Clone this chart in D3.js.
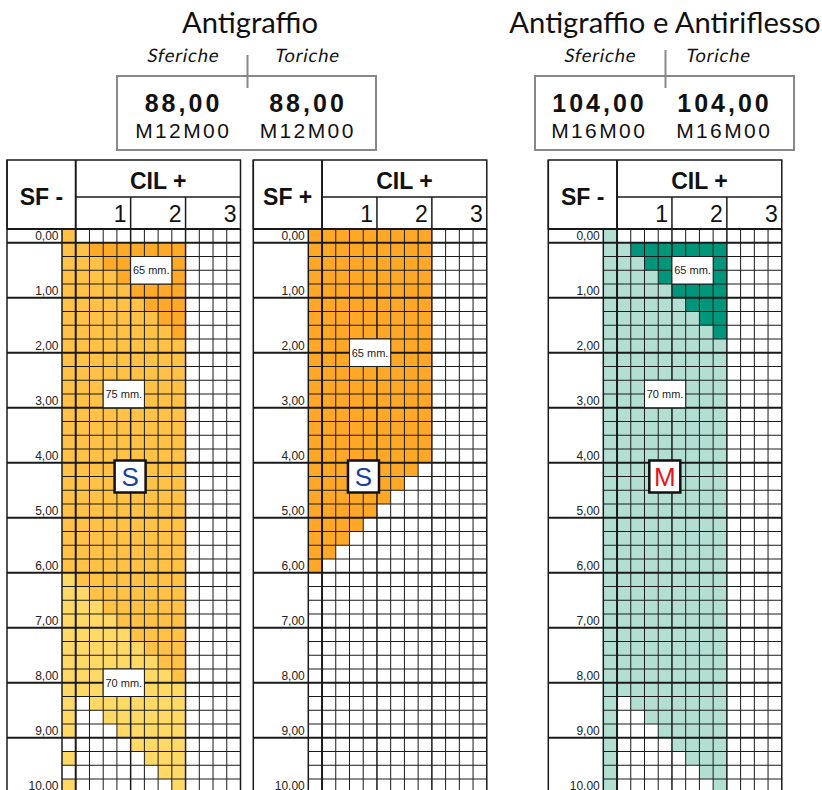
<!DOCTYPE html>
<html>
<head>
<meta charset="utf-8">
<script src="https://cdn.jsdelivr.net/npm/d3@7"></script>
<style>
	body { margin: 0; background: #fff; }
	svg { display: block; }
</style>
</head>
<body>
<div id="chart"></div>
<script>
// grid categories: cylinder (columns) and sphere (rows), in diopters
var cylSteps = [0, 0.25, 0.5, 0.75, 1, 1.25, 1.5, 1.75, 2, 2.25, 2.5, 2.75, 3];
var sphSteps = [0, 0.25, 0.5, 0.75, 1, 1.25, 1.5, 1.75, 2, 2.25, 2.5, 2.75, 3,
	3.25, 3.5, 3.75, 4, 4.25, 4.5, 4.75, 5, 5.25, 5.5, 5.75, 6, 6.25, 6.5, 6.75,
	7, 7.25, 7.5, 7.75, 8, 8.25, 8.5, 8.75, 9, 9.25, 9.5, 9.75, 10];
var sphLabels = ["0,00", "1,00", "2,00", "3,00", "4,00", "5,00", "6,00", "7,00", "8,00", "9,00", "10,00"];
var cilLabels = ["1", "2", "3"];

// cell codes read row by row (one char per cylinder column, "." = not available)
// L = 75 mm, D = 65 mm, P = 70 mm (antigraffio sferiche)
var antigraffioSfMeno = [
	"L............", "LLDDDDDDD....", "LLLDDDDDD....", "LLLLDDDDD....", "LLLLLDDDD....",
	"LLLLLLDDD....", "LLLLLLLDD....", "LLLLLLLLD....", "LLLLLLLLL....", "LLLLLLLLL....",
	"LLLLLLLLL....", "LLLLLLLLL....", "LLLLLLLLL....", "LLLLLLLLL....", "LLLLLLLLL....",
	"LLLLLLLLL....", "LLLLLLLLL....", "LLLLLLLLL....", "LLLLLLLLL....", "LLLLLLLLL....",
	"LLLLLLLLL....", "LLLLLLLLL....", "LLLLLLLLL....", "LLLLLLLLL....", "LLLLLLLLL....",
	"PLLLLLLLL....", "PPLLLLLLL....", "PPPLLLLLL....", "PPPPLLLLL....", "PPPPPLLLL....",
	"PPPPPPLLL....", "PPPPPPPLL....", "PPPPPPPPL....", "PPPPPPPPP....", "P.PPPPPPP....",
	"P..PPPPPP....", "P...PPPPP....", ".....PPPP....", "P.....PPP....", ".......PP....",
	"P.......P...."
];
// O = 65 mm (antigraffio, SF +)
var antigraffioSfPiu = [
	"OOOOOOOOO....", "OOOOOOOOO....", "OOOOOOOOO....", "OOOOOOOOO....", "OOOOOOOOO....",
	"OOOOOOOOO....", "OOOOOOOOO....", "OOOOOOOOO....", "OOOOOOOOO....", "OOOOOOOOO....",
	"OOOOOOOOO....", "OOOOOOOOO....", "OOOOOOOOO....", "OOOOOOOOO....", "OOOOOOOOO....",
	"OOOOOOOOO....", "OOOOOOOOO....", "OOOOOOOO.....", "OOOOOOO......", "OOOOOO.......",
	"OOOOO........", "OOOO.........", "OOO..........", "OO...........", "O............",
	".............", ".............", ".............", ".............", ".............",
	".............", ".............", ".............", ".............", ".............",
	".............", ".............", ".............", ".............", ".............",
	"............."
];
// T = 70 mm, G = 65 mm (antigraffio e antiriflesso, SF -)
var antiriflessoSfMeno = [
	"T............", "TTGGGGGGG....", "TTTGGGGGG....", "TTTTGGGGG....", "TTTTTGGGG....",
	"TTTTTTGGG....", "TTTTTTTGG....", "TTTTTTTTG....", "TTTTTTTTT....", "TTTTTTTTT....",
	"TTTTTTTTT....", "TTTTTTTTT....", "TTTTTTTTT....", "TTTTTTTTT....", "TTTTTTTTT....",
	"TTTTTTTTT....", "TTTTTTTTT....", "TTTTTTTTT....", "TTTTTTTTT....", "TTTTTTTTT....",
	"TTTTTTTTT....", "TTTTTTTTT....", "TTTTTTTTT....", "TTTTTTTTT....", "TTTTTTTTT....",
	"TTTTTTTTT....", "TTTTTTTTT....", "TTTTTTTTT....", "TTTTTTTTT....", "TTTTTTTTT....",
	"TTTTTTTTT....", "TTTTTTTTT....", "TTTTTTTTT....", "TTTTTTTTT....", "T.TTTTTTT....",
	"T..TTTTTT....", "T...TTTTT....", "T....TTTT....", "T.....TTT....", "T......TT....",
	"T.......T...."
];

// diameter notes: text, first/last cylinder, first/last sphere
var notesSfMeno = [
	{ text: "65 mm.", c0: 1.25, c1: 1.75, s0: 0.5, s1: 0.75 },
	{ text: "75 mm.", c0: 0.75, c1: 1.25, s0: 2.75, s1: 3 },
	{ text: "70 mm.", c0: 0.75, c1: 1.25, s0: 8, s1: 8.25 }
];
var notesSfPiu = [
	{ text: "65 mm.", c0: 0.75, c1: 1.25, s0: 2, s1: 2.25 }
];
var notesRiflesso = [
	{ text: "65 mm.", c0: 1.25, c1: 1.75, s0: 0.5, s1: 0.75 },
	{ text: "70 mm.", c0: 0.75, c1: 1.25, s0: 2.75, s1: 3 }
];

// header prices and codes
var groupTitles = ["Antigraffio", "Antigraffio e Antiriflesso"];
var sfericheValues = ["88,00", "104,00"];
var toricheValues = ["88,00", "104,00"];
var sfericheCodes = ["M12M00", "M16M00"];
var toricheCodes = ["M12M00", "M16M00"];

var fillColors = {
	L: "#FFC247", D: "#FFA928", P: "#FFD966",
	O: "#FFA726", T: "#B3DFD3", G: "#00967C"
};

var svgWidth = 822;
var svgHeight = 790;

var svg = d3.select("#chart")
	.append("svg")
	.attr("width", svgWidth)
	.attr("height", svgHeight);

var sans = "'Liberation Sans', Arial, sans-serif";
var futura = "Lato, 'Open Sans', sans-serif";

// ---- top header blocks ----
var groups = [
	{ cx: 246.5, titleX: 250, sepTop: 55, leftX: 182, rightX: 306, valueX: [182, 306.5] },
	{ cx: 664.5, titleX: 665, sepTop: 50, leftX: 599, rightX: 717, valueX: [598, 723] }
];

groups.forEach(function(g, i) {
	var head = svg.append("g");

	head.append("text")
		.attr("x", g.titleX)
		.attr("y", 33)
		.attr("text-anchor", "middle")
		.attr("font-family", futura)
		.attr("font-size", 29.2)
		.attr("fill", "#111")
		.text(groupTitles[i]);

	// oblique subtitles (slanted roman, like the original)
	[[g.leftX, "Sferiche"], [g.rightX, "Toriche"]].forEach(function(s) {
		head.append("text")
			.attr("transform", `translate(${s[0] + 0.4}, 61.5) skewX(-11)`)
			.attr("text-anchor", "middle")
			.attr("font-family", futura)
			.attr("font-size", 18.5)
			.attr("letter-spacing", 0.8)
			.attr("fill", "#111")
			.text(s[1]);
	});

	head.append("rect")
		.attr("x", g.cx - 129.5)
		.attr("y", 76)
		.attr("width", 259)
		.attr("height", 74)
		.attr("fill", "none")
		.attr("stroke", "#888")
		.attr("stroke-width", 2);

	head.append("line")
		.attr("x1", g.cx + 1).attr("x2", g.cx + 1)
		.attr("y1", g.sepTop).attr("y2", 88)
		.attr("stroke", "#888")
		.attr("stroke-width", 2);

	[[g.valueX[0], sfericheValues[i], sfericheCodes[i]], [g.valueX[1], toricheValues[i], toricheCodes[i]]].forEach(function(v) {
		head.append("text")
			.attr("x", v[0] + 1.5)
			.attr("y", 111.5)
			.attr("text-anchor", "middle")
			.attr("font-family", sans)
			.attr("font-weight", "bold")
			.attr("font-size", 25)
			.attr("letter-spacing", 3)
			.attr("fill", "#111")
			.text(v[1]);
		head.append("text")
			.attr("x", v[0] + 1.2)
			.attr("y", 138)
			.attr("text-anchor", "middle")
			.attr("font-family", sans)
			.attr("font-size", 21)
			.attr("letter-spacing", 2.4)
			.attr("fill", "#111")
			.text(v[2]);
	});
});

// ---- grid panels ----
var headerTop = 160;
var cilRowBottom = 197;
var gridTop = 229;
var labelWidth = 55;
var cellW = 13.73;
var cellH = 13.75;

var panels = [
	{ left: 7, sign: "SF -", rows: antigraffioSfMeno, notes: notesSfMeno, badge: "S", badgeColor: "#1B3F9A", badgeCyl: 1.24 },
	{ left: 253.3, sign: "SF +", rows: antigraffioSfPiu, notes: notesSfPiu, badge: "S", badgeColor: "#1B3F9A", badgeCyl: 1.005 },
	{ left: 548.3, sign: "SF -", rows: antiriflessoSfMeno, notes: notesRiflesso, badge: "M", badgeColor: "#E8141B", badgeCyl: 1.12 }
];

panels.forEach(function(p) {
	var gridLeft = p.left + labelWidth;
	var gridRight = gridLeft + cylSteps.length * cellW;
	var gridBottom = gridTop + sphSteps.length * cellH;

	var xBand = d3.scaleBand().domain(cylSteps).range([gridLeft, gridRight]);
	var yBand = d3.scaleBand().domain(sphSteps).range([gridTop, gridBottom]);
	// continuous versions for edges and free placement
	var xLin = d3.scaleLinear().domain([0, 3.25]).range([gridLeft, gridRight]);
	var yLin = d3.scaleLinear().domain([0, 10.25]).range([gridTop, gridBottom]);

	var g = svg.append("g");

	// cells
	var cells = [];
	sphSteps.forEach(function(s, ri) {
		cylSteps.forEach(function(c, ci) {
			var code = p.rows[ri].charAt(ci);
			if (code !== ".") cells.push({ sph: s, cyl: c, code: code });
		});
	});

	g.selectAll("rect.cell")
		.data(cells)
		.enter()
		.append("rect")
		.attr("class", "cell")
		.attr("x", d => xBand(d.cyl))
		.attr("y", d => yBand(d.sph))
		.attr("width", xBand.bandwidth())
		.attr("height", yBand.bandwidth())
		.attr("fill", d => fillColors[d.code]);

	// vertical grid lines
	var vEdges = cylSteps.concat([3.25]);
	g.selectAll("line.v")
		.data(vEdges)
		.enter()
		.append("line")
		.attr("x1", d => xLin(d)).attr("x2", d => xLin(d))
		.attr("y1", gridTop).attr("y2", gridBottom)
		.attr("stroke", "#1a1a1a")
		.attr("stroke-width", d => d === 0.25 ? 2 : (d === 1.25 || d === 2.25 || d === 3.25 || d === 0) ? 1.5 : 1);

	// horizontal grid lines, integer boundaries run through the label column
	var hEdges = sphSteps.concat([10.25]);
	g.selectAll("line.h")
		.data(hEdges)
		.enter()
		.append("line")
		.attr("x1", d => (d % 1 === 0.25 || d === 0) ? p.left : gridLeft)
		.attr("x2", gridRight)
		.attr("y1", d => yLin(d)).attr("y2", d => yLin(d))
		.attr("stroke", "#1a1a1a")
		.attr("stroke-width", d => (d % 1 === 0.25 || d === 0) ? 2 : 1);

	// left border
	g.append("line")
		.attr("x1", p.left).attr("x2", p.left)
		.attr("y1", headerTop).attr("y2", svgHeight)
		.attr("stroke", "#1a1a1a")
		.attr("stroke-width", 1.5);

	// sphere labels
	g.selectAll("text.sph")
		.data(sphLabels)
		.enter()
		.append("text")
		.attr("x", gridLeft - 3.5)
		.attr("y", (d, i) => yBand(i) + cellH - 3)
		.attr("text-anchor", "end")
		.attr("font-family", sans)
		.attr("font-size", 12)
		.attr("fill", "#222")
		.text(d => d);

	// header box
	var sep = xLin(0.25);
	g.append("rect")
		.attr("x", p.left).attr("y", headerTop)
		.attr("width", gridRight - p.left).attr("height", gridTop - headerTop)
		.attr("fill", "none")
		.attr("stroke", "#1a1a1a")
		.attr("stroke-width", 1.5);
	g.append("line")
		.attr("x1", sep).attr("x2", sep)
		.attr("y1", headerTop).attr("y2", gridTop)
		.attr("stroke", "#1a1a1a").attr("stroke-width", 2);
	g.append("line")
		.attr("x1", sep).attr("x2", gridRight)
		.attr("y1", cilRowBottom).attr("y2", cilRowBottom)
		.attr("stroke", "#1a1a1a").attr("stroke-width", 1.5);
	[1.25, 2.25].forEach(function(c) {
		g.append("line")
			.attr("x1", xLin(c)).attr("x2", xLin(c))
			.attr("y1", cilRowBottom).attr("y2", gridTop)
			.attr("stroke", "#1a1a1a").attr("stroke-width", 1.5);
	});

	g.append("text")
		.attr("x", (p.left + sep) / 2)
		.attr("y", 205)
		.attr("text-anchor", "middle")
		.attr("font-family", sans)
		.attr("font-weight", "bold")
		.attr("font-size", 23)
		.attr("fill", "#111")
		.text(p.sign);

	g.append("text")
		.attr("x", (sep + gridRight) / 2)
		.attr("y", 188.5)
		.attr("text-anchor", "middle")
		.attr("font-family", sans)
		.attr("font-weight", "bold")
		.attr("font-size", 23)
		.attr("fill", "#111")
		.text("CIL +");

	g.selectAll("text.cil")
		.data(cilLabels)
		.enter()
		.append("text")
		.attr("x", (d, i) => xLin(+d + 0.25) - 4)
		.attr("y", 222)
		.attr("text-anchor", "end")
		.attr("font-family", sans)
		.attr("font-size", 23)
		.attr("fill", "#111")
		.text(d => d);

	// diameter notes
	var notes = g.selectAll("g.note")
		.data(p.notes)
		.enter()
		.append("g");
	notes.append("rect")
		.attr("x", d => xLin(d.c0))
		.attr("y", d => yLin(d.s0))
		.attr("width", d => xLin(d.c1 + 0.25) - xLin(d.c0))
		.attr("height", d => yLin(d.s1 + 0.25) - yLin(d.s0))
		.attr("fill", "#fff")
		.attr("stroke", "#1a1a1a")
		.attr("stroke-width", 1);
	notes.append("text")
		.attr("x", d => (xLin(d.c0) + xLin(d.c1 + 0.25)) / 2)
		.attr("y", d => (yLin(d.s0) + yLin(d.s1 + 0.25)) / 2 + 4)
		.attr("text-anchor", "middle")
		.attr("font-family", sans)
		.attr("font-size", 11)
		.attr("fill", "#222")
		.text(d => d.text);

	// badge
	var bx = xLin(p.badgeCyl);
	var by = yLin(4.5);
	g.append("rect")
		.attr("x", bx - 15.5).attr("y", by - 16)
		.attr("width", 31).attr("height", 32)
		.attr("fill", "#fff")
		.attr("stroke", "#111")
		.attr("stroke-width", 2.5);
	g.append("text")
		.attr("x", bx)
		.attr("y", by + 9.5)
		.attr("text-anchor", "middle")
		.attr("font-family", sans)
		.attr("font-size", 26)
		.attr("fill", p.badgeColor)
		.text(p.badge);
});
</script>
</body>
</html>
